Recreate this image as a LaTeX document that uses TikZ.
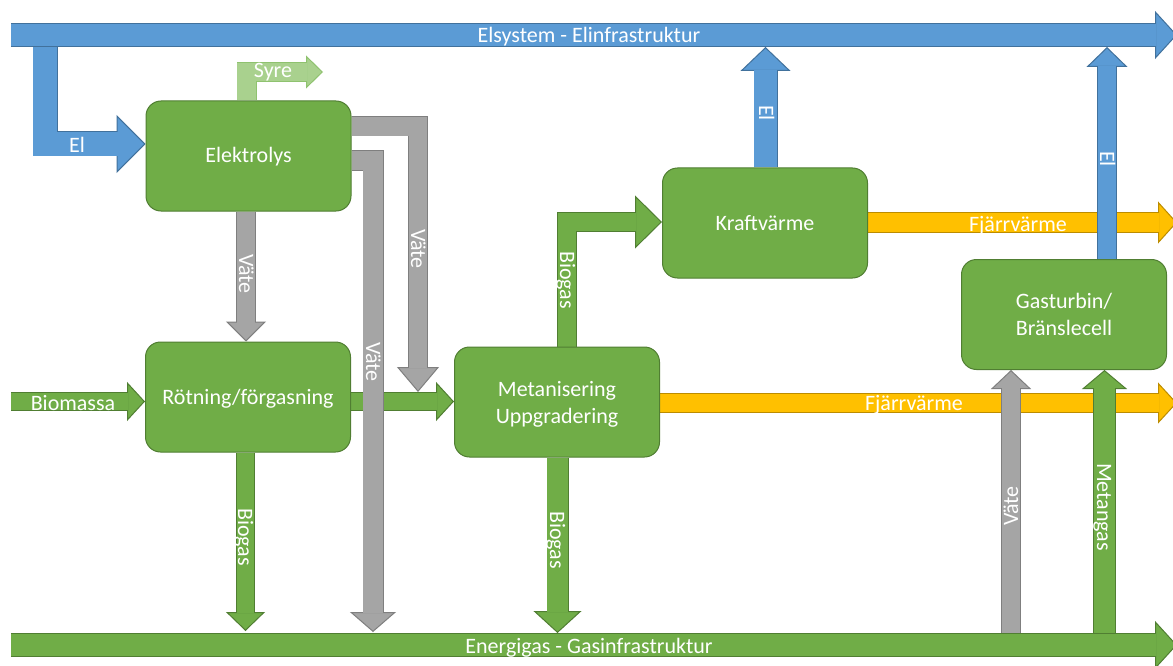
\documentclass[tikz,border=0pt]{standalone}
\usepackage{fontspec}
\setmainfont{Carlito}
\usetikzlibrary{arrows.meta,backgrounds}

\definecolor{bluef}{HTML}{5B9BD5}
\definecolor{bluee}{HTML}{41719C}
\definecolor{greenf}{HTML}{70AD47}
\definecolor{greene}{HTML}{507E32}
\definecolor{grayf}{HTML}{A5A5A5}
\definecolor{graye}{HTML}{7F7F7F}
\definecolor{orangef}{HTML}{FFC000}
\definecolor{orangee}{HTML}{BC8C00}
\definecolor{lightf}{HTML}{A9D18E}
\definecolor{lighte}{HTML}{8FC26F}

\tikzset{
  % block arrow: #1 fill, #2 edge, #3 shaft width, #4 inner shaft width,
  % #5 head length, #6 head width, #7 inner shaft shortening
  fat/.style n args={7}{
    draw=#2, line width=#3, line join=miter, line cap=butt,
    -{Triangle[length=#5,width=#6,line width=1pt,fill=#1]},
    postaction={draw=#1, line width=#4, -, shorten >=#7}
  },
  box/.style={draw=greene, fill=greenf, line width=1pt, rounded corners=15pt,
    minimum width=205pt, minimum height=110pt, text=white, align=center,
    font=\fontsize{22}{27}\selectfont},
  % single text line centred on its capitals
  oneline/.style={text height=14pt, text depth=0pt},
  lbl/.style={text=white, inner sep=0pt, oneline, font=\fontsize{22}{27}\selectfont},
}

\begin{document}
\begin{tikzpicture}[x=1pt,y=-1pt]
\useasboundingbox (0,0) rectangle (1173,666);

% process blocks
\node[box,oneline] (elek)  at (248.5,156)  {Elektrolys};
\node[box,oneline] (rot)   at (248,397)    {Rötning/förgasning};
\node[box,text depth=0pt] (met)   at (557,402)    {Metanisering\\Uppgradering};
\node[box,oneline] (kraft) at (765,223)    {Kraftvärme};
\node[box,text depth=0pt] (gas)   at (1064,314.5) {Gasturbin/\\Bränslecell};

% ends of the two infrastructure bars
\coordinate (topL) at (11,35);
\coordinate (topR) at (1177,35);
\coordinate (botL) at (11,645);
\coordinate (botR) at (1177,645);

\begin{pgfonlayer}{background}
  \fill[white] (0,0) rectangle (1173,666);

  % infrastructure bars
  \draw[fat={bluef}{bluee}{24pt}{22.5pt}{22pt}{48pt}{21pt}] (topL) -- (topR);
  \draw[fat={greenf}{greene}{24pt}{22.5pt}{22pt}{48pt}{21pt}] (botL) -- (botR);

  % district heating
  \draw[fat={orangef}{orangee}{21pt}{19.5pt}{19pt}{42pt}{18pt}]
    (kraft.east |- 0,222.5) -- (1177,222.5);
  \draw[fat={orangef}{orangee}{20pt}{18.5pt}{19pt}{41pt}{18pt}]
    (met.east |- 0,403) -- (1177,403);

  % electricity
  \draw[fat={bluef}{bluee}{25pt}{23.5pt}{29pt}{58pt}{28pt}]
    (45,47.5) |- (elek.west |- 0,144);
  \draw[fat={bluef}{bluee}{24pt}{22.5pt}{24pt}{50pt}{23pt}]
    (kraft.north -| 765.5,0) -- (765.5,47);
  \draw[fat={bluef}{bluee}{20pt}{18.5pt}{20pt}{41pt}{19pt}]
    (gas.north -| 1107,0) -- (1107,47);

  % oxygen
  \draw[fat={lightf}{lighte}{20pt}{18.5pt}{17pt}{33pt}{16pt}]
    (elek.north -| 246.5,0) |- (323,72);

  % biomass and biogas
  \draw[fat={greenf}{greene}{19pt}{17.5pt}{18pt}{39pt}{17pt}]
    (11,401.5) -- (rot.west |- 0,401.5);
  \draw[fat={greenf}{greene}{19pt}{17.5pt}{18pt}{39pt}{17pt}]
    (rot.east |- 0,401.5) -- (met.west |- 0,401.5);
  \draw[fat={greenf}{greene}{19pt}{17.5pt}{19pt}{39pt}{18pt}]
    (rot.south -| 245.5,0) -- (245.5,631);
  \draw[fat={greenf}{greene}{20pt}{18.5pt}{27pt}{53pt}{26pt}]
    (met.north -| 567,0) |- (kraft.west |- 0,222);
  \draw[fat={greenf}{greene}{22pt}{20.5pt}{22pt}{48pt}{21pt}]
    (met.south -| 557.5,0) -- (557.5,633);
  \draw[fat={greenf}{greene}{23pt}{21.5pt}{19pt}{45pt}{18pt}]
    (1104.5,632.5) -- (gas.south -| 1104.5,0);

  % hydrogen
  \draw[fat={grayf}{graye}{20pt}{18.5pt}{20pt}{40pt}{19pt}]
    (elek.south -| 246,0) -- (rot.north -| 246,0);
  \draw[fat={grayf}{graye}{20pt}{18.5pt}{25pt}{42pt}{24pt}]
    (elek.east |- 0,126.5) -| (418,392);
  \draw[fat={grayf}{graye}{21pt}{19.5pt}{20pt}{46pt}{19pt}]
    (elek.east |- 0,160.5) -| (373,632);
  \draw[fat={grayf}{graye}{20pt}{18.5pt}{19pt}{40pt}{18pt}]
    (1011,632.5) -- (gas.south -| 1011,0);
\end{pgfonlayer}

% flow labels
\node[lbl] (lTop) at (589,36) {Elsystem - Elinfrastruktur};
\node[lbl] (lBot) at (589,646) {Energigas - Gasinfrastruktur};
\node[lbl] (lEl1) at (77,146) {El};
\node[lbl] (lSyre) at (273,71) {Syre};
\node[lbl,rotate=-90] (lV1) at (246,274) {Väte};
\node[lbl,rotate=-90] (lV2) at (418,249) {Väte};
\node[lbl,rotate=-90] (lV3) at (373,362) {Väte};
\node[lbl] (lBio) at (73,403) {Biomassa};
\node[lbl,rotate=-90] (lBg1) at (245,537) {Biogas};
\node[lbl,rotate=-90] (lBg2) at (567,280) {Biogas};
\node[lbl,rotate=-90] (lBg3) at (557,540) {Biogas};
\node[lbl,rotate=-90] (lEl2) at (766,113) {El};
\node[lbl,rotate=-90] (lEl3) at (1107,159) {El};
\node[lbl] (lFv1) at (1018,224) {Fjärrvärme};
\node[lbl] (lFv2) at (914,403) {Fjärrvärme};
\node[lbl,rotate=90] (lV4) at (1011,506) {Väte};
\node[lbl,rotate=-90] (lMg) at (1104,507) {Metangas};
\end{tikzpicture}
\end{document}
